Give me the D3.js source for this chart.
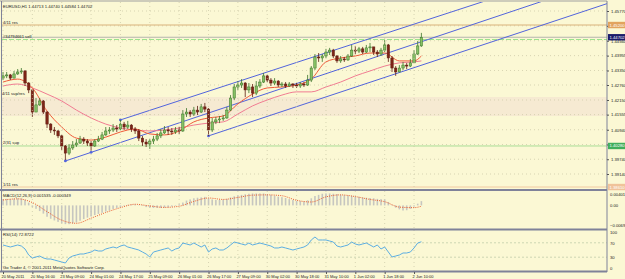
<!DOCTYPE html>
<html><head><meta charset="utf-8">
<script src="https://cdn.jsdelivr.net/npm/d3@7"></script>
<style>
html,body{margin:0;padding:0;background:#fbf8d4;overflow:hidden;}
svg{display:block;font-family:"Liberation Sans",Arial,sans-serif;}
</style></head><body>
<svg id="chart" width="625" height="279"></svg>
<script>
// --- data (2h candles)
const timeLabels = ["20 May 2011","20 May 16:00","23 May 09:00","24 May 01:00","24 May 17:00","25 May 09:00","26 May 01:00","26 May 17:00","27 May 09:00","30 May 02:00","30 May 18:00","31 May 10:00","1 Jun 02:00","1 Jun 18:00","2 Jun 10:00"];
const priceTicks = [1.45770,1.45165,1.44560,1.43955,1.43350,1.42760,1.42150,1.41555,1.40940,1.40340,1.39740,1.39140];

// [open, high, low, close]
const candles = [
[1.4304,1.4329,1.4296,1.4313],[1.4313,1.4329,1.4304,1.4317],[1.4317,1.4321,1.4296,1.4304],[1.4304,1.4333,1.4304,1.4321],
[1.4321,1.4341,1.4317,1.4329],[1.4329,1.4345,1.4321,1.4333],[1.4333,1.4337,1.4272,1.4284],[1.4284,1.4288,1.4243,1.4256],
[1.4256,1.4256,1.4146,1.4166],[1.4166,1.4223,1.4166,1.4195],[1.4195,1.4223,1.4191,1.4211],[1.4211,1.4215,1.4158,1.4166],
[1.4166,1.4170,1.4101,1.4117],[1.4117,1.4121,1.4081,1.4093],[1.4093,1.4105,1.4073,1.4089],[1.4089,1.4093,1.4060,1.4069],
[1.4069,1.4073,1.4012,1.4028],[1.4028,1.4032,1.3971,1.3999],[1.3999,1.4036,1.3991,1.4020],[1.4020,1.4048,1.4012,1.4032],
[1.4032,1.4056,1.4024,1.4040],[1.4040,1.4069,1.4036,1.4056],[1.4056,1.4064,1.4036,1.4048],[1.4048,1.4056,1.4028,1.4040],
[1.4040,1.4048,1.4008,1.4028],[1.4028,1.4056,1.4024,1.4048],[1.4048,1.4069,1.4044,1.4056],[1.4056,1.4085,1.4052,1.4073],
[1.4073,1.4105,1.4069,1.4089],[1.4089,1.4105,1.4077,1.4093],[1.4093,1.4117,1.4085,1.4101],[1.4101,1.4113,1.4085,1.4097],
[1.4097,1.4134,1.4093,1.4117],[1.4117,1.4126,1.4093,1.4105],[1.4105,1.4130,1.4097,1.4113],[1.4113,1.4117,1.4085,1.4097],
[1.4097,1.4105,1.4077,1.4089],[1.4089,1.4097,1.4048,1.4060],[1.4060,1.4069,1.4028,1.4044],[1.4044,1.4056,1.4024,1.4036],
[1.4036,1.4056,1.4016,1.4048],[1.4048,1.4069,1.4036,1.4056],[1.4056,1.4081,1.4048,1.4069],[1.4069,1.4097,1.4060,1.4081],
[1.4081,1.4109,1.4077,1.4093],[1.4093,1.4105,1.4073,1.4089],[1.4089,1.4101,1.4073,1.4085],[1.4085,1.4105,1.4077,1.4093],
[1.4093,1.4105,1.4077,1.4089],[1.4089,1.4174,1.4085,1.4158],[1.4158,1.4182,1.4146,1.4166],[1.4166,1.4174,1.4146,1.4158],
[1.4158,1.4187,1.4150,1.4174],[1.4174,1.4191,1.4154,1.4166],[1.4166,1.4199,1.4162,1.4187],[1.4187,1.4203,1.4166,1.4178],
[1.4178,1.4182,1.4069,1.4093],[1.4093,1.4142,1.4085,1.4126],[1.4126,1.4146,1.4117,1.4134],[1.4134,1.4150,1.4121,1.4138],
[1.4138,1.4154,1.4130,1.4142],[1.4142,1.4187,1.4138,1.4174],[1.4174,1.4235,1.4170,1.4223],[1.4223,1.4280,1.4215,1.4268],
[1.4268,1.4292,1.4256,1.4276],[1.4276,1.4300,1.4264,1.4284],[1.4284,1.4288,1.4227,1.4256],[1.4256,1.4284,1.4243,1.4268],
[1.4268,1.4280,1.4227,1.4243],[1.4243,1.4292,1.4235,1.4272],[1.4272,1.4300,1.4264,1.4288],[1.4288,1.4325,1.4284,1.4313],
[1.4313,1.4317,1.4288,1.4296],[1.4296,1.4304,1.4272,1.4284],[1.4284,1.4304,1.4276,1.4292],[1.4292,1.4296,1.4268,1.4276],
[1.4276,1.4288,1.4268,1.4280],[1.4280,1.4288,1.4264,1.4272],[1.4272,1.4288,1.4268,1.4280],[1.4280,1.4284,1.4264,1.4276],
[1.4276,1.4284,1.4264,1.4272],[1.4272,1.4288,1.4264,1.4280],[1.4280,1.4288,1.4268,1.4276],[1.4276,1.4317,1.4272,1.4296],
[1.4296,1.4353,1.4288,1.4345],[1.4345,1.4402,1.4337,1.4390],[1.4390,1.4406,1.4370,1.4386],[1.4386,1.4402,1.4370,1.4394],
[1.4394,1.4423,1.4386,1.4410],[1.4410,1.4427,1.4398,1.4418],[1.4418,1.4423,1.4386,1.4394],[1.4394,1.4398,1.4366,1.4374],
[1.4374,1.4394,1.4366,1.4382],[1.4382,1.4390,1.4370,1.4378],[1.4378,1.4402,1.4374,1.4394],[1.4394,1.4439,1.4390,1.4418],
[1.4418,1.4435,1.4402,1.4414],[1.4414,1.4431,1.4406,1.4423],[1.4423,1.4431,1.4402,1.4410],[1.4410,1.4439,1.4406,1.4427],
[1.4427,1.4447,1.4410,1.4431],[1.4431,1.4431,1.4398,1.4410],[1.4410,1.4418,1.4390,1.4402],[1.4402,1.4427,1.4394,1.4418],
[1.4418,1.4459,1.4410,1.4439],[1.4439,1.4443,1.4370,1.4386],[1.4386,1.4394,1.4329,1.4345],[1.4345,1.4353,1.4313,1.4329],
[1.4329,1.4357,1.4329,1.4345],[1.4345,1.4370,1.4337,1.4357],[1.4357,1.4366,1.4341,1.4353],[1.4353,1.4382,1.4349,1.4366],
[1.4366,1.4418,1.4366,1.4402],[1.4402,1.4455,1.4398,1.4435],[1.4435,1.4488,1.4431,1.4470]
];

// moving averages + MACD signal, read every 4th candle
const lineAt = [0,4,8,12,16,20,24,28,32,36,40,44,48,52,56,60,64,68,72,76,80,84,88,92,96,100,104,108,112,114];
const maFast = [1.4288,1.4300,1.4264,1.4170,1.4105,1.4060,1.4052,1.4064,1.4085,1.4097,1.4077,1.4073,1.4089,1.4126,1.4142,1.4150,1.4199,1.4239,1.4264,1.4268,1.4276,1.4300,1.4370,1.4386,1.4394,1.4406,1.4406,1.4374,1.4374,1.4394];
const maSlow = [1.4272,1.4280,1.4264,1.4239,1.4211,1.4174,1.4142,1.4117,1.4101,1.4093,1.4089,1.4093,1.4101,1.4113,1.4121,1.4126,1.4158,1.4191,1.4215,1.4235,1.4248,1.4248,1.4268,1.4288,1.4313,1.4333,1.4353,1.4366,1.4370,1.4374];
const macdSignal = [0.0019,0.0023,0.0010,-0.0022,-0.0052,-0.0063,-0.0045,-0.0025,-0.0008,0.0004,-0.0002,-0.0007,-0.0003,0.0014,0.0026,0.0021,0.0028,0.0036,0.0037,0.0034,0.0018,0.0012,0.0030,0.0037,0.0031,0.0021,0.0013,-0.0006,-0.0008,-0.0003];

const macdMain = [0.0022,0.0023,0.0023,0.0024,0.0025,0.0025,0.0020,0.0010,-0.0006,-0.0012,-0.0020,-0.0029,-0.0040,-0.0047,-0.0053,-0.0058,
-0.0063,-0.0066,-0.0066,-0.0063,-0.0060,-0.0054,-0.0048,-0.0043,-0.0039,-0.0034,-0.0030,-0.0026,-0.0022,-0.0018,-0.0013,-0.0009,
-0.0006,-0.0002,0.0002,0.0003,0.0004,0.0001,-0.0002,-0.0006,-0.0008,-0.0009,-0.0009,-0.0009,-0.0008,-0.0007,-0.0004,-0.0002,
0.0004,0.0010,0.0017,0.0021,0.0025,0.0027,0.0028,0.0030,0.0025,0.0021,0.0019,0.0019,0.0020,0.0023,0.0028,0.0032,
0.0035,0.0037,0.0039,0.0041,0.0042,0.0042,0.0042,0.0042,0.0040,0.0037,0.0034,0.0031,0.0029,0.0026,0.0022,0.0019,
0.0016,0.0015,0.0014,0.0018,0.0025,0.0033,0.0037,0.0041,0.0042,0.0042,0.0041,0.0040,0.0038,0.0036,0.0035,0.0034,
0.0031,0.0030,0.0028,0.0027,0.0026,0.0025,0.0023,0.0022,0.0021,0.0012,0.0002,-0.0008,-0.0014,-0.0018,-0.0017,-0.0012,
-0.0004,0.0006,0.0015];

const rsi = [63.9,61.1,58.3,61.1,63.9,61.1,52.8,36.1,27.8,30.6,33.3,27.8,25.0,25.0,22.2,19.4,
16.7,13.9,27.8,33.3,36.1,38.9,38.9,41.7,44.4,50.0,47.2,47.2,52.8,55.6,58.3,55.6,
61.1,63.9,58.3,55.6,52.8,50.0,44.4,38.9,30.6,44.4,47.2,50.0,52.8,55.6,47.2,52.8,
55.6,69.4,66.7,63.9,69.4,63.9,58.3,63.9,44.4,52.8,55.6,50.0,50.0,55.6,63.9,72.2,
69.4,66.7,63.9,69.4,63.9,66.7,69.4,66.7,63.9,61.1,55.6,55.6,58.3,55.6,52.8,50.0,
52.8,55.6,58.3,63.9,77.8,86.1,77.8,77.8,77.8,75.0,72.2,61.1,58.3,61.1,63.9,72.2,
66.7,63.9,66.7,69.4,63.9,58.3,63.9,52.8,58.3,44.4,30.6,33.3,36.1,41.7,41.7,44.4,
55.6,69.4,72.9];

// horizontal objects and trend channels
const levels = [
  {name:"4/11 res", price:1.4520, color:"#d9b27a", label:"1.45200", box:"#e2a35e"},
  {name:"2/31 sup", price:1.4028, color:"#a9dd96", label:"1.40280", box:"#3fae5c"},
  {name:"1/11 res", price:1.3861, color:"#f1c9a0", label:"1.38610", box:"#f0c39a"}
];
const zone = {name:"4/11 sup/res", top:1.4227, bottom:1.4150};
const orderLine = {name:"#34794661 sell", price:1.4461};
const bid = {price:1.44702, label:"1.44702"};
const trendlines = [
  {a:[17,1.3967], b:[24,1.4002]},
  {a:[32,1.4134], b:[55,1.4246]},
  {a:[56,1.4069], b:[100,1.4287]}
];

// --- layout
const svg = d3.select("#chart");
const left = 2, right = 607;
const main = {top:2, bottom:189};
const macdP = {top:191, bottom:228};
const rsiP = {top:230, bottom:271};
const fs = 4.2;

const x = d3.scaleLinear().domain([0, 1]).range([3, 3 + 3.67]);
const y = d3.scaleLinear().domain([1.39140, 1.45770]).range([174, 11]);
const yM = d3.scaleLinear().domain([-0.00690, 0.00401]).range([225, 194]);
const yR = d3.scaleLinear().domain([0, 100]).range([268, 232]);

svg.append("rect").attr("width", 625).attr("height", 279).attr("fill", "#fbf8d4");

const defs = svg.append("defs");
defs.append("clipPath").attr("id", "clipMain").append("rect")
  .attr("x", left).attr("y", main.top).attr("width", right - left).attr("height", main.bottom - main.top);
defs.append("clipPath").attr("id", "clipMacd").append("rect")
  .attr("x", left).attr("y", macdP.top).attr("width", right - left).attr("height", macdP.bottom - macdP.top);

const mainG = svg.append("g").attr("clip-path", "url(#clipMain)");

// zone band
mainG.append("rect")
  .attr("x", left).attr("width", right - left)
  .attr("y", y(zone.top)).attr("height", y(zone.bottom) - y(zone.top))
  .attr("fill", "#f6ead2");

// grid (dotted)
const labelIdx = timeLabels.map((d, i) => i * 8);
const gridC = "#c9c5a3";
[main, macdP, rsiP].forEach(p => {
  svg.append("g").selectAll("line").data(labelIdx).join("line")
    .attr("x1", d => x(d)).attr("x2", d => x(d))
    .attr("y1", p.top).attr("y2", p.bottom)
    .attr("stroke", gridC).attr("stroke-width", 0.7).attr("stroke-dasharray", "1,3");
});
mainG.append("g").selectAll("line").data(priceTicks).join("line")
  .attr("x1", left).attr("x2", right).attr("y1", d => y(d)).attr("y2", d => y(d))
  .attr("stroke", gridC).attr("stroke-width", 0.7).attr("stroke-dasharray", "1,3");

// level lines
levels.forEach(l => {
  mainG.append("line").attr("x1", left).attr("x2", right)
    .attr("y1", y(l.price)).attr("y2", y(l.price))
    .attr("stroke", l.color).attr("stroke-width", 1);
});
mainG.append("line").attr("x1", left).attr("x2", right)
  .attr("y1", y(bid.price)).attr("y2", y(bid.price))
  .attr("stroke", "#a4a4a4").attr("stroke-width", 0.8);
mainG.append("line").attr("x1", left).attr("x2", right)
  .attr("y1", y(orderLine.price)).attr("y2", y(orderLine.price))
  .attr("stroke", "#9be38a").attr("stroke-width", 1).attr("stroke-dasharray", "5,2");

// trend channel
const xEnd = x.invert(right + 5);
trendlines.forEach(t => {
  const slope = (t.b[1] - t.a[1]) / (t.b[0] - t.a[0]);
  const endP = t.a[1] + slope * (xEnd - t.a[0]);
  mainG.append("line")
    .attr("x1", x(t.a[0])).attr("y1", y(t.a[1]))
    .attr("x2", x(xEnd)).attr("y2", y(endP))
    .attr("stroke", "#5264dc").attr("stroke-width", 1);
  mainG.append("circle").attr("cx", x(t.a[0])).attr("cy", y(t.a[1])).attr("r", 1.4)
    .attr("fill", "#5264dc");
});
mainG.append("circle").attr("cx", x(trendlines[0].b[0])).attr("cy", y(trendlines[0].b[1])).attr("r", 1.4)
  .attr("fill", "#5264dc");

// moving averages
const maLine = vals => d3.line().curve(d3.curveMonotoneX)
  .x((d, i) => x(lineAt[i])).y(d => y(d))(vals);
mainG.append("path").attr("d", maLine(maSlow)).attr("fill", "none")
  .attr("stroke", "#f17c92").attr("stroke-width", 1);
mainG.append("path").attr("d", maLine(maFast)).attr("fill", "none")
  .attr("stroke", "#ef5b3a").attr("stroke-width", 1);

// candles
const cg = mainG.append("g");
candles.forEach((c, i) => {
  const [o, h, l, cl] = c;
  const up = cl >= o;
  const stroke = up ? "#3a7428" : "#5e1c12";
  cg.append("line").attr("x1", x(i)).attr("x2", x(i))
    .attr("y1", y(h)).attr("y2", y(l)).attr("stroke", stroke).attr("stroke-width", 0.8);
  const top = y(Math.max(o, cl)), bot = y(Math.min(o, cl));
  cg.append("rect").attr("x", x(i) - 1.2).attr("width", 2.4)
    .attr("y", top).attr("height", Math.max(0.8, bot - top))
    .attr("fill", up ? "#86c064" : "#7e2416").attr("stroke", stroke).attr("stroke-width", 0.5);
});

// object labels on chart
const small = (g, tx, ty, t, fill) => g.append("text").attr("x", tx).attr("y", ty)
  .attr("font-size", fs).attr("fill", fill || "#1a1a1a").text(t);
small(svg, 3, 8, "EURUSD,H1  1.44713 1.44740 1.44584 1.44702");
small(svg, 3, y(levels[0].price) - 1.5, levels[0].name);
small(svg, 3, y(orderLine.price) - 2, orderLine.name);
small(svg, 2, y(zone.top) - 2.5, zone.name);
small(svg, 3, y(levels[1].price) - 1.5, levels[1].name);
small(svg, 3, 186, levels[2].name);

// MACD
const mg = svg.append("g").attr("clip-path", "url(#clipMacd)");
mg.selectAll("rect").data(macdMain).join("rect")
  .attr("x", (d, i) => x(i) - 0.8).attr("width", 1.6)
  .attr("y", d => Math.min(yM(d), yM(0))).attr("height", d => Math.abs(yM(d) - yM(0)))
  .attr("fill", "#c6c6c0");
mg.append("path")
  .attr("d", d3.line().curve(d3.curveMonotoneX).x((d, i) => x(lineAt[i])).y(d => yM(d))(macdSignal))
  .attr("fill", "none").attr("stroke", "#ea5a2e").attr("stroke-width", 1).attr("stroke-dasharray", "1,1.2");
small(svg, 3, 197, "MACD(12,26,9) 0.001535 -0.000349");

// RSI
[70, 30].forEach(v => {
  svg.append("line").attr("x1", left).attr("x2", right).attr("y1", yR(v)).attr("y2", yR(v))
    .attr("stroke", "#b9c9a5").attr("stroke-width", 0.7).attr("stroke-dasharray", "2,2");
});
svg.append("path")
  .attr("d", d3.line().x((d, i) => x(i)).y(d => yR(d))(rsi))
  .attr("fill", "none").attr("stroke", "#5caee2").attr("stroke-width", 1);
small(svg, 3, 236, "RSI(14) 72.8722");
small(svg, 3, 269, "Go Trader 4, \u00a9 2001-2011 MetaQuotes Software Corp.");

// frames
const frameC = "#7f8299";
svg.append("line").attr("x1", 0).attr("x2", right).attr("y1", 1).attr("y2", 1).attr("stroke", "#a0a0a0").attr("stroke-width", 1);
svg.append("line").attr("x1", 1.5).attr("x2", 1.5).attr("y1", 1).attr("y2", 272).attr("stroke", frameC).attr("stroke-width", 1);
[190, 229.5, 271.5].forEach(v => {
  svg.append("line").attr("x1", 0).attr("x2", right).attr("y1", v).attr("y2", v)
    .attr("stroke", frameC).attr("stroke-width", 2);
});
svg.append("line").attr("x1", right).attr("x2", right).attr("y1", 1).attr("y2", 272)
  .attr("stroke", frameC).attr("stroke-width", 1);

// price axis
const axisStyle = g => {
  g.select(".domain").remove();
  g.selectAll(".tick line").attr("stroke", "#555");
  g.selectAll(".tick text").attr("font-size", fs).attr("fill", "#222")
    .attr("font-family", "Liberation Sans, Arial, sans-serif");
};
svg.append("g").attr("transform", `translate(${right},0)`)
  .call(d3.axisRight(y).tickValues(priceTicks).tickFormat(d3.format(".5f")).tickSize(2).tickPadding(2))
  .call(axisStyle);

const axisBox = (price, label, fill, txt) => {
  svg.append("rect").attr("x", right + 1).attr("y", y(price) - 3.2).attr("width", 18).attr("height", 6.4).attr("fill", fill);
  svg.append("text").attr("x", right + 2.5).attr("y", y(price) + 1.5).attr("font-size", fs)
    .attr("fill", txt).text(label);
};
levels.forEach(l => axisBox(l.price, l.label, l.box, "#fff"));
axisBox(bid.price, bid.label, "#1c1c6a", "#fff");

// MACD axis
svg.append("g").attr("transform", `translate(${right},0)`)
  .call(d3.axisRight(yM).tickValues([0.00401, 0, -0.00690])
    .tickFormat(d => d === 0 ? "0.00" : d3.format(".5f")(d)).tickSize(0).tickPadding(3))
  .call(axisStyle);
// RSI axis
svg.append("g").attr("transform", `translate(${right},0)`)
  .call(d3.axisRight(yR).tickValues([100, 70, 30, 0]).tickSize(0).tickPadding(3))
  .call(axisStyle);

// time axis
svg.append("g").attr("transform", `translate(0,${rsiP.bottom + 1})`)
  .call(d3.axisBottom(x).tickValues(labelIdx).tickFormat((d, i) => timeLabels[i]).tickSize(2).tickPadding(1))
  .call(g => {
    axisStyle(g);
    g.selectAll(".tick text").attr("text-anchor", "start").attr("dx", -2).attr("font-size", 4);
  });
</script>
</body></html>
